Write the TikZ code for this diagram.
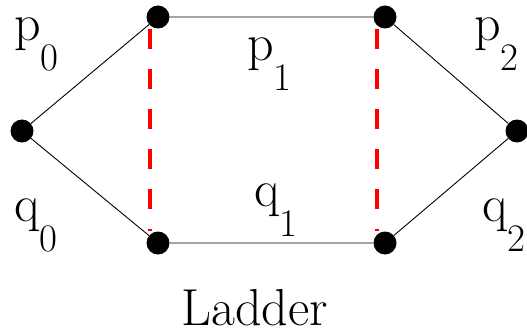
\documentclass[tikz,border=0pt]{standalone}
\usepackage{fontspec}
\newcommand{\lbl}[2]{{\fontsize{52}{52}\selectfont #1\raisebox{-30pt}{\fontsize{39}{39}\selectfont #2}}}
\tikzset{
  dot/.style={circle,fill=black,inner sep=0pt,minimum size=23pt},
  rung/.style={red,line width=4.5pt,dash pattern=on 20pt off 20pt}
}
\begin{document}
\begin{tikzpicture}[x=1pt,y=-1pt]
\useasboundingbox (0,0) rectangle (527,334);
\node[dot] (l) at (22,131) {};
\node[dot] (tl) at (158,17) {};
\node[dot] (tr) at (385,17) {};
\node[dot] (r) at (517,131) {};
\node[dot] (bl) at (158,243) {};
\node[dot] (br) at (385,243) {};
\draw[line width=0.9pt] (l) -- (tl) -- (tr) -- (r) -- (br) -- (bl) -- (l);
\foreach \n/\m in {tl/bl,tr/br}
{
  \draw[rung] ([xshift=-8pt]\n.south) -- ([xshift=-8pt]\m.north);
}
\node[anchor=base west,inner sep=0pt] (p0) at (14,41) {\lbl{p}{0}};
\node[anchor=base west,inner sep=0pt] (p1) at (247,61) {\lbl{p}{1}};
\node[anchor=base west,inner sep=0pt] (p2) at (474,41) {\lbl{p}{2}};
\node[anchor=base west,inner sep=0pt] (q0) at (14,221) {\lbl{q}{0}};
\node[anchor=base west,inner sep=0pt] (q1) at (254,206) {\lbl{q}{1}};
\node[anchor=base west,inner sep=0pt] (q2) at (482,221) {\lbl{q}{2}};
\node[anchor=base west,inner sep=0pt] (title) at (181,325) {\fontsize{52}{52}\selectfont Ladder};
\end{tikzpicture}
\end{document}
